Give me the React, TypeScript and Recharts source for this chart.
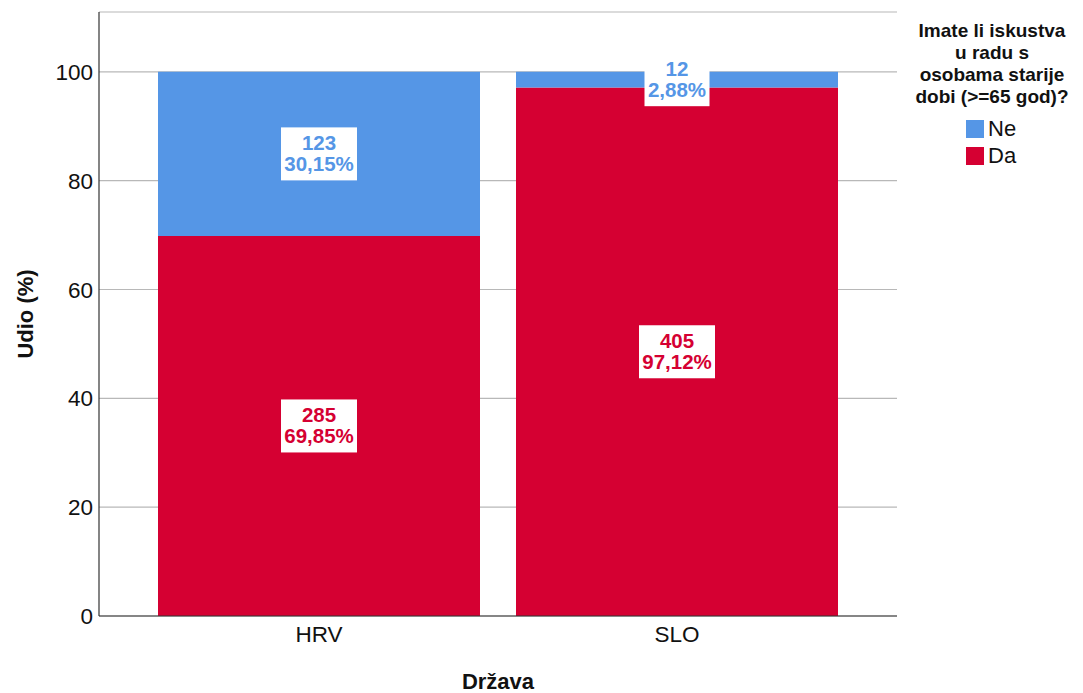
import React from 'react'
import {
  BarChart,
  Bar,
  XAxis,
  YAxis,
  CartesianGrid,
  LabelList,
  Label,
} from 'recharts'

// values
const states = ['HRV', 'SLO']
const daPct = [69.85, 97.12]
const nePct = [30.15, 2.88]
const daCount = [285, 405]
const neCount = [123, 12]
const yTicks = [0, 20, 40, 60, 80, 100]

const DA_COLOR = '#d50032'
const NE_COLOR = '#5596e6'
const FONT = '"Liberation Sans", Arial, sans-serif'

const data = states.map((s, i) => ({
  state: s,
  da: daPct[i],
  ne: nePct[i],
}))

function fmtPct(v: number) {
  return v.toFixed(2).replace('.', ',') + '%'
}

function makeBoxLabel(counts: number[], pcts: number[], color: string) {
  return (props: any) => {
    const { x, y, width, height, index } = props
    const pct = fmtPct(pcts[index])
    const cx = x + width / 2
    const cy = y + height / 2
    const bw = 11 * pct.length + 10
    const bh = 53
    const top = cy - bh / 2
    return (
      <g>
        <rect x={cx - bw / 2} y={top} width={bw} height={bh} fill='#fff' />
        <text
          x={cx}
          y={top + 22.5}
          textAnchor='middle'
          fill={color}
          fontSize={20.5}
          fontWeight='bold'
          fontFamily={FONT}
        >
          {counts[index]}
        </text>
        <text
          x={cx}
          y={top + 43.5}
          textAnchor='middle'
          fill={color}
          fontSize={20.5}
          fontWeight='bold'
          fontFamily={FONT}
        >
          {pct}
        </text>
      </g>
    )
  }
}

const legendTitle = ['Imate li iskustva', 'u radu s', 'osobama starije', 'dobi (>=65 god)?']
const legendItems = [
  { name: 'Ne', color: NE_COLOR },
  { name: 'Da', color: DA_COLOR },
]

export default function App() {
  return (
    <div style={{ position: 'relative', width: 1083, height: 693, fontFamily: FONT }}>
      <style>{'body{margin:0}'}</style>
      <BarChart
        width={1083}
        height={693}
        data={data}
        margin={{ top: 12, right: 186, bottom: 0, left: 0 }}
      >
        <CartesianGrid vertical={false} stroke='#b8b8b8' strokeWidth={1.2} />
        <XAxis
          dataKey='state'
          height={77}
          padding={{ left: 41, right: 41 }}
          axisLine={{ stroke: '#333', strokeWidth: 1.2 }}
          tickLine={false}
          tickSize={6}
          tickMargin={4}
          tick={{ fontSize: 22.5, fill: '#111', fontFamily: FONT }}
        >
          <Label
            value='Država'
            position='insideBottom'
            offset={4}
            style={{ fontSize: 22, fontWeight: 'bold', fill: '#111', fontFamily: FONT }}
          />
        </XAxis>
        <YAxis
          width={99}
          domain={[0, 111]}
          ticks={yTicks}
          allowDataOverflow
          axisLine={{ stroke: '#333', strokeWidth: 1.2 }}
          tickLine={false}
          tickSize={4}
          tickMargin={2}
          tick={{ fontSize: 22.5, fill: '#111', fontFamily: FONT }}
        >
          <Label
            content={() => (
              <text
                x={33}
                y={314}
                transform='rotate(-90, 33, 314)'
                textAnchor='middle'
                fontSize={22}
                fontWeight='bold'
                fill='#111'
                fontFamily={FONT}
              >
                Udio (%)
              </text>
            )}
          />
        </YAxis>
        <Bar dataKey='da' stackId='a' fill={DA_COLOR} barSize={322} isAnimationActive={false}>
          <LabelList content={makeBoxLabel(daCount, daPct, DA_COLOR)} />
        </Bar>
        <Bar dataKey='ne' stackId='a' fill={NE_COLOR} barSize={322} isAnimationActive={false}>
          <LabelList content={makeBoxLabel(neCount, nePct, NE_COLOR)} />
        </Bar>
      </BarChart>

      <div
        style={{
          position: 'absolute',
          left: 898,
          top: 20,
          width: 188,
          textAlign: 'center',
          fontSize: 19,
          lineHeight: '22px',
          fontWeight: 'bold',
          color: '#111',
        }}
      >
        {legendTitle.map((t) => (
          <div key={t}>{t}</div>
        ))}
      </div>
      <div style={{ position: 'absolute', left: 966, top: 116 }}>
        {legendItems.map((it) => (
          <div
            key={it.name}
            style={{ display: 'flex', alignItems: 'center', height: 26.5, fontSize: 22, color: '#111' }}
          >
            <span style={{ width: 18, height: 18, background: it.color, marginRight: 4 }} />
            {it.name}
          </div>
        ))}
      </div>
    </div>
  )
}
